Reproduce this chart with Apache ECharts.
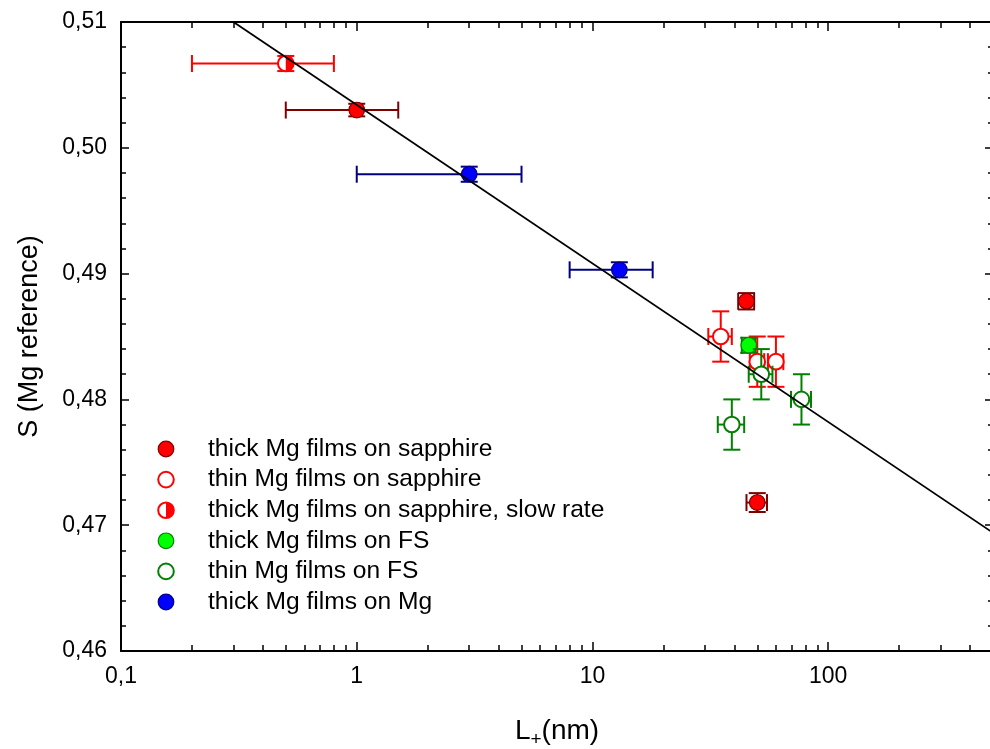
<!DOCTYPE html>
<html>
<head>
<meta charset="utf-8">
<script src="https://cdn.jsdelivr.net/npm/echarts@6/dist/echarts.min.js"></script>
<style>
  html, body { margin: 0; padding: 0; background: #ffffff; }
  #chart { width: 990px; height: 749px; }
</style>
</head>
<body>
<div id="chart"></div>
<script>
// Each row: [L+ (nm), S, ±L error, ±S error]
const thickSapphire = [[1, 0.503, 0.5, 0.0005], [45, 0.4878, 3.5, 0.00065], [50, 0.4718, 5, 0.00075]];
const thinSapphire = [[35, 0.485, 4, 0.002], [50, 0.483, 3.5, 0.002], [60, 0.483, 4.5, 0.002]];
const slowSapphire = [[0.5, 0.5067, 0.3, 0.0006]];
const thickFS = [[46, 0.4843, 3, 0.0006]];
const thinFS = [[39, 0.478, 5, 0.002], [52, 0.482, 6, 0.002], [77, 0.48, 7.5, 0.002]];
const thickMg = [[3, 0.4979, 2, 0.0006], [13, 0.4903, 5, 0.0006]];

// Linear fit of S against log10(L+), given by its two ends
const fitLine = [[0.3, 0.51], [500, 0.4694]];

const seriesNames = [
  'thick Mg films on sapphire',
  'thin Mg films on sapphire',
  'thick Mg films on sapphire, slow rate',
  'thick Mg films on FS',
  'thin Mg films on FS',
  'thick Mg films on Mg'
];

const xMajorTicks = [0.1, 1, 10, 100];
const xMinorTicks = [0.2, 0.3, 0.4, 0.5, 0.6, 0.7, 0.8, 0.9,
                     2, 3, 4, 5, 6, 7, 8, 9,
                     20, 30, 40, 50, 60, 70, 80, 90,
                     200, 300, 400];
const xRange = [0.1, 500];
const yRange = [0.46, 0.51];
const yStep = 0.01;

// Marker appearance per series
const looks = [
  { fill: '#ff0000', stroke: '#800000', lw: 1.2, err: '#800000', half: false },
  { fill: '#ffffff', stroke: '#ff0000', lw: 2, err: '#ff0000', half: false },
  { fill: '#ff0000', stroke: '#ff0000', lw: 2, err: '#ff0000', half: true },
  { fill: '#00ff00', stroke: '#008000', lw: 1.2, err: '#008000', half: false },
  { fill: '#ffffff', stroke: '#008000', lw: 2, err: '#008000', half: false },
  { fill: '#0000ff', stroke: '#000080', lw: 1.2, err: '#000080', half: false }
];
const seriesData = [thickSapphire, thinSapphire, slowSapphire, thickFS, thinFS, thickMg];

const R = 7.8;
const CAP = 8.5;
const FONT = '"Liberation Sans", Arial, sans-serif';

function markerShapes(look, cx, cy) {
  if (look.half) {
    return [
      { type: 'circle', shape: { cx, cy, r: R }, style: { fill: '#ffffff', stroke: null } },
      { type: 'sector', shape: { cx, cy, r: R, r0: 0, startAngle: -Math.PI / 2, endAngle: Math.PI / 2, clockwise: true },
        style: { fill: look.fill, stroke: null } },
      { type: 'circle', shape: { cx, cy, r: R }, style: { fill: null, stroke: look.stroke, lineWidth: look.lw } }
    ];
  }
  return [{ type: 'circle', shape: { cx, cy, r: R }, style: { fill: look.fill, stroke: look.stroke, lineWidth: look.lw } }];
}

function makeRenderer(look) {
  return function (params, api) {
    const L = api.value(0), S = api.value(1), dL = api.value(2), dS = api.value(3);
    const c = api.coord([L, S]);
    const xl = api.coord([L - dL, S])[0];
    const xr = api.coord([L + dL, S])[0];
    const yt = api.coord([L, S + dS])[1];
    const yb = api.coord([L, S - dS])[1];
    const es = { stroke: look.err, lineWidth: 2, fill: null };
    const line = (x1, y1, x2, y2) => ({ type: 'line', shape: { x1, y1, x2, y2 }, style: es });
    const children = [
      line(xl, c[1], xr, c[1]),
      line(xl, c[1] - CAP, xl, c[1] + CAP),
      line(xr, c[1] - CAP, xr, c[1] + CAP),
      line(c[0], yt, c[0], yb),
      line(c[0] - CAP, yt, c[0] + CAP, yt),
      line(c[0] - CAP, yb, c[0] + CAP, yb)
    ].concat(markerShapes(look, c[0], c[1]));
    return { type: 'group', children };
  };
}

const series = seriesData.map((data, i) => ({
  name: seriesNames[i],
  type: 'custom',
  xAxisIndex: 0,
  yAxisIndex: 0,
  z: 2 + i * 0.01,
  renderItem: makeRenderer(looks[i]),
  encode: { x: 0, y: 1 },
  data: data
}));

series.push({
  name: 'fit',
  type: 'line',
  xAxisIndex: 0,
  yAxisIndex: 0,
  data: fitLine,
  showSymbol: false,
  symbol: 'none',
  clip: true,
  z: 5,
  lineStyle: { color: '#000000', width: 1.8 }
});

// Legend drawn as graphic elements
const legendX = 166, legendTextX = 208, legendTop = 449, legendStep = 30.6;
const legendGraphics = [];
seriesNames.forEach((name, i) => {
  const y = legendTop + i * legendStep;
  legendGraphics.push({
    type: 'group',
    children: markerShapes(looks[i], legendX, y).concat([{
      type: 'text',
      x: legendTextX,
      y: y,
      style: { text: name, font: '24.6px ' + FONT, fill: '#000000', verticalAlign: 'middle', align: 'left' }
    }])
  });
});

const axisLineStyle = { color: '#000000', width: 2 };
const tickStyle = { color: '#000000', width: 1.5 };

function xAxisDef(position, ticks, len, withLine, withLabels) {
  return {
    type: 'log',
    logBase: 10,
    position: position,
    min: xRange[0],
    max: xRange[1],
    axisLine: { show: withLine, onZero: false, lineStyle: axisLineStyle },
    axisTick: { show: true, inside: true, length: len, customValues: ticks, lineStyle: tickStyle },
    axisLabel: withLabels ? {
      show: true,
      customValues: xMajorTicks,
      margin: 14,
      fontSize: 23,
      fontFamily: FONT,
      color: '#000000',
      formatter: v => String(v).replace('.', ',')
    } : { show: false },
    splitLine: { show: false },
    name: withLabels ? 'L{sub|+}(nm)' : '',
    nameLocation: 'middle',
    nameGap: 62,
    nameTextStyle: {
      fontSize: 28,
      fontFamily: FONT,
      color: '#000000',
      rich: {
        sub: { fontSize: 19, fontFamily: FONT, color: '#000000', padding: [17, 0, 0, 0] }
      }
    }
  };
}

function yAxisDef(position, withLabels) {
  return {
    type: 'value',
    position: position,
    min: yRange[0],
    max: yRange[1],
    interval: yStep,
    axisLine: { show: true, onZero: false, lineStyle: axisLineStyle },
    axisTick: { show: true, inside: true, length: 8, lineStyle: tickStyle },
    minorTick: { show: true, splitNumber: 5, length: 5, lineStyle: tickStyle },
    axisLabel: withLabels ? {
      show: true,
      margin: 14,
      fontSize: 23,
      fontFamily: FONT,
      color: '#000000',
      formatter: v => v.toFixed(2).replace('.', ',')
    } : { show: false },
    splitLine: { show: false },
    name: withLabels ? 'S (Mg reference)' : '',
    nameLocation: 'middle',
    nameRotate: 90,
    nameGap: 78,
    nameTextStyle: { fontSize: 27, fontFamily: FONT, color: '#000000' }
  };
}

const option = {
  animation: false,
  backgroundColor: '#ffffff',
  textStyle: { fontFamily: FONT },
  grid: { left: 121, right: -3, top: 22, bottom: 98, containLabel: false, outerBoundsMode: 'none' },
  xAxis: [
    xAxisDef('bottom', xMajorTicks, 9, true, true),
    xAxisDef('bottom', xMinorTicks, 6, false, false),
    xAxisDef('top', xMajorTicks, 9, true, false),
    xAxisDef('top', xMinorTicks, 6, false, false)
  ],
  yAxis: [
    yAxisDef('left', true),
    yAxisDef('right', false)
  ],
  series: series,
  graphic: legendGraphics
};

const chart = echarts.init(document.getElementById('chart'), null, { renderer: 'canvas' });
chart.setOption(option);
</script>
</body>
</html>
